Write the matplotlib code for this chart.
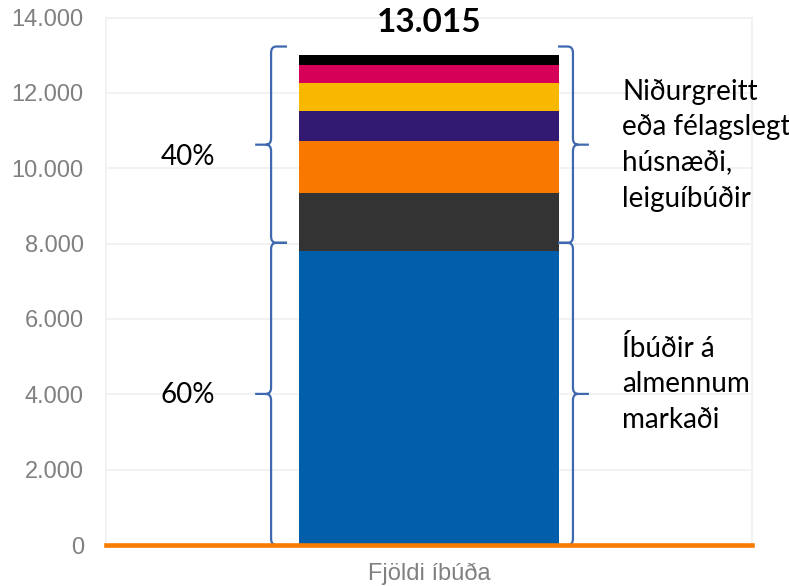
import matplotlib
matplotlib.use("Agg")
import matplotlib.pyplot as plt
from matplotlib.path import Path
from matplotlib.patches import PathPatch

# Housing units by category (stacked from the bottom)
categories = ["Almennur markaður", "Flokkur 2", "Flokkur 3", "Flokkur 4",
              "Flokkur 5", "Flokkur 6", "Flokkur 7"]
values = [7809, 1520, 1400, 800, 720, 500, 266]
colors = ["#005EAA", "#333333", "#F97800", "#321A72", "#F9B800", "#D60058", "#000000"]
bar_label = "Fjöldi íbúða"
yticks = [0, 2000, 4000, 6000, 8000, 10000, 12000, 14000]
share_labels = ["60%", "40%"]
right_labels = [["Íbúðir á", "almennum", "markaði"],
                ["Niðurgreitt", "eða félagslegt", "húsnæði,", "leiguíbúðir"]]

total = sum(values)

def thousands(v):
    return f"{int(v):,}".replace(",", ".")

fig = plt.figure(figsize=(7.89, 5.86), dpi=100)
ax = fig.add_axes([106 / 789, 1 - 545 / 586, 646 / 789, 527.5 / 586])

bottom = 0
for v, c in zip(values, colors):
    ax.bar(0, v, width=0.8, bottom=bottom, color=c, zorder=2, linewidth=0)
    bottom += v

ax.set_xlim(-0.994, 0.994)
ax.set_ylim(0, 14000)
ax.set_yticks(yticks)
ax.set_yticklabels([thousands(t) for t in yticks])
ax.set_xticks([0])
ax.set_xticklabels([bar_label])
ax.tick_params(axis="both", length=0, colors="#808080", labelsize=17)
ax.tick_params(axis="y", pad=16)
ax.tick_params(axis="x", pad=13)
for lbl in ax.get_xticklabels() + ax.get_yticklabels():
    lbl.set_fontfamily("Liberation Sans")
ax.grid(axis="y", color="#F0F0F0", linewidth=1.2, zorder=0)
for s in ax.spines.values():
    s.set_color("#F0F0F0")
    s.set_linewidth(1.2)
ax.spines["bottom"].set_visible(False)

# Orange baseline
ax.axhline(0, color="#F97B00", linewidth=3.3, zorder=4, clip_on=False)

# Total above the bar
ax.annotate(thousands(total), xy=(0, total), xytext=(0, 16), textcoords="offset points",
            ha="center", va="baseline", fontsize=24, fontweight="bold",
            family="Lato", color="black", annotation_clip=False)

# Curly braces marking the two groups
def brace(x_spine, x_arm, x_tip, y_bot, y_top, rx=0.016, ry=170):
    y_mid = (y_bot + y_top) / 2
    sx = 1 if x_tip > x_spine else -1
    ax_dir = 1 if x_arm > x_spine else -1
    verts = [
        (x_arm, y_top), (x_spine + ax_dir * rx, y_top),
        (x_spine, y_top), (x_spine, y_top - ry),
        (x_spine, y_mid + ry),
        (x_spine, y_mid), (x_spine + sx * rx, y_mid),
        (x_tip, y_mid),
        (x_spine + sx * rx, y_mid),
        (x_spine, y_mid), (x_spine, y_mid - ry),
        (x_spine, y_bot + ry),
        (x_spine, y_bot), (x_spine + ax_dir * rx, y_bot),
        (x_arm, y_bot),
    ]
    codes = [Path.MOVETO, Path.LINETO,
             Path.CURVE3, Path.CURVE3,
             Path.LINETO,
             Path.CURVE3, Path.CURVE3,
             Path.LINETO,
             Path.MOVETO,
             Path.CURVE3, Path.CURVE3,
             Path.LINETO,
             Path.CURVE3, Path.CURVE3,
             Path.LINETO]
    ax.add_patch(PathPatch(Path(verts, codes), facecolor="none", edgecolor="#3F68B0",
                           linewidth=1.6, zorder=3, clip_on=False, capstyle="butt"))

split = 8020
brace_top = 13230
for y0, y1 in [(0, split), (split, brace_top)]:
    brace(-0.486, -0.437, -0.535, y0, y1)
    brace(0.443, 0.397, 0.492, y0, y1)

# Share labels on the left
ax.text(-0.742, 3985, share_labels[0], ha="center", va="center", fontsize=20, family="Lato")
ax.text(-0.742, 10310, share_labels[1], ha="center", va="center", fontsize=20, family="Lato")

# Group descriptions on the right, one line at a time
line_px = 35.5
for lines, first_baseline in [(right_labels[0], 357), (right_labels[1], 100)]:
    for i, line in enumerate(lines):
        ypx = first_baseline + i * line_px
        ax.text(0.594, (545 - ypx) / 527.5 * 14000, line, ha="left", va="baseline",
                fontsize=20, family="Lato", color="black")

fig.savefig("out.png", dpi=100)
